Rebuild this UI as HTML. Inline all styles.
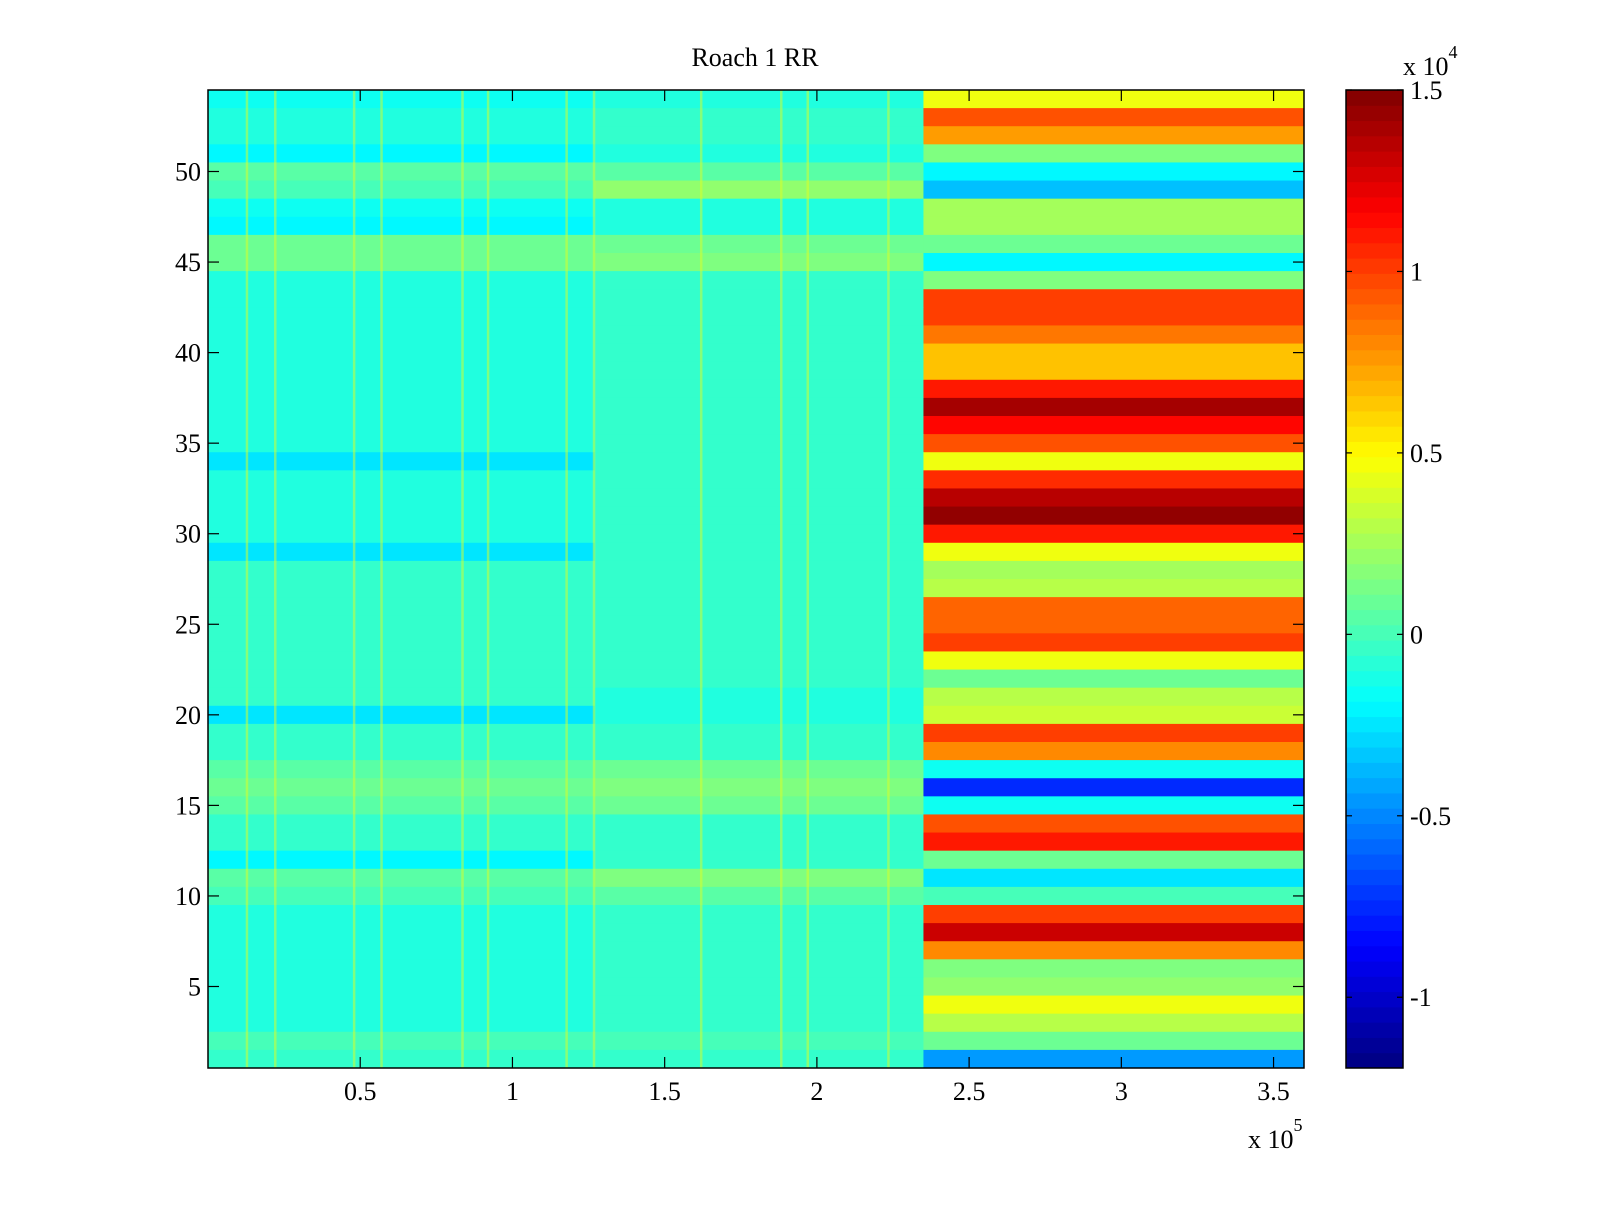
<!DOCTYPE html>
<html><head><meta charset="utf-8"><style>
body{margin:0;background:#fff;}
svg text{font-family:"Liberation Serif",serif;fill:#000;}
</style></head><body>
<svg id="chart" width="1600" height="1200" xmlns="http://www.w3.org/2000/svg">
<rect width="1600" height="1200" fill="#fff"/>
<g id="cells"></g>
<g id="cbar"></g>
<g id="axes"></g>
<text x="755" y="66" font-size="26" text-anchor="middle">Roach 1 RR</text>
<text x="1248" y="1148" font-size="26">x 10<tspan dy="-17" font-size="18">5</tspan></text>
<text x="1403" y="75" font-size="26">x 10<tspan dy="-17" font-size="18">4</tspan></text>
</svg>
<script>
// values in units of 1e4, rows listed top (54) to bottom (1)
const rightVals=[0.45,0.95,0.75,0.15,-0.2,-0.35,0.25,0.25,0.1,-0.2,0.15,1.0,1.0,0.85,0.65,0.65,1.1,1.4,1.15,0.95,0.45,1.05,1.35,1.45,1.1,0.45,0.25,0.3,0.9,0.9,1.0,0.45,0.1,0.3,0.35,1.0,0.8,-0.15,-0.75,-0.15,0.95,1.1,0.1,-0.25,0.0,1.0,1.3,0.8,0.15,0.2,0.45,0.3,0.1,-0.45];
const leftA=[-0.15,-0.1,-0.1,-0.2,0.05,0.0,-0.15,-0.2,0.1,0.1,-0.1,-0.1,-0.1,-0.1,-0.1,-0.1,-0.1,-0.1,-0.1,-0.1,-0.25,-0.1,-0.1,-0.1,-0.1,-0.25,-0.05,-0.05,-0.05,-0.05,-0.05,-0.05,-0.05,-0.05,-0.25,-0.05,-0.05,0.05,0.1,0.05,-0.05,-0.05,-0.2,0.05,0.0,-0.1,-0.1,-0.1,-0.1,-0.1,-0.1,-0.1,0.0,-0.05];
const leftB=[-0.1,-0.05,-0.05,-0.1,0.05,0.2,-0.1,-0.1,0.1,0.15,-0.05,-0.05,-0.05,-0.05,-0.05,-0.05,-0.05,-0.05,-0.05,-0.05,-0.05,-0.05,-0.05,-0.05,-0.05,-0.05,-0.05,-0.05,-0.05,-0.05,-0.05,-0.05,-0.05,-0.1,-0.1,-0.05,-0.05,0.1,0.15,0.1,-0.05,-0.05,-0.05,0.15,0.05,-0.05,-0.05,-0.05,-0.05,-0.05,-0.05,-0.05,0.0,-0.05];
const stripeX=[0.128,0.221,0.48,0.57,0.836,0.92,1.178,1.268,1.62,1.883,1.97,2.235]; // x 1e5
const splitX=[1.27,2.35]; // x 1e5
const xTicks=[0.5,1,1.5,2,2.5,3,3.5];
const xTickLabels=["0.5","1","1.5","2","2.5","3","3.5"];
const yTicks=[5,10,15,20,25,30,35,40,45,50];
const cTicks=[-1,-0.5,0,0.5,1,1.5];
const cTickLabels=["-1","-0.5","0","0.5","1","1.5"];

const L=208,R=1304,T=90,B=1068,XMAX=3.6,NR=54;
const CL=1346,CR=1403,CMIN=-1.195,CMAX=1.5;
const X=v=>L+(v/XMAX)*(R-L);
const Y=v=>B-(v-0.5)/NR*(B-T);
const CY=v=>B-(v-CMIN)/(CMAX-CMIN)*(B-T);
function jet(v){let t=(v-CMIN)/(CMAX-CMIN);t=Math.max(0,Math.min(1,t));
 const c=x=>Math.round(255*Math.max(0,Math.min(1,x)));
 return `rgb(${c(1.5-Math.abs(4*t-3))},${c(1.5-Math.abs(4*t-2))},${c(1.5-Math.abs(4*t-1))})`;}
const NS="http://www.w3.org/2000/svg";
function mk(tag,attrs,parent){const e=document.createElementNS(NS,tag);for(const k in attrs)e.setAttribute(k,attrs[k]);parent.appendChild(e);return e;}
const cells=document.getElementById('cells');
for(let i=0;i<NR;i++){
 const row=NR-i, y0=Y(row+0.5), y1=Y(row-0.5);
 const segs=[[0,splitX[0],leftA[i]],[splitX[0],splitX[1],leftB[i]],[splitX[1],XMAX,rightVals[i]]];
 segs.forEach(s=>{
  const r=mk('rect',{x:X(s[0]),y:y0,width:X(s[1])-X(s[0])+0.5,height:y1-y0+0.5,fill:jet(s[2])},cells);
  
  
 });
}
stripeX.forEach(s=>{
 const r=mk('rect',{x:X(s)-1.25,y:T,width:2.5,height:B-T,fill:jet(0.4),opacity:0.5},cells);
 
 
});
const cb=document.getElementById('cbar');
const N=64;
for(let k=0;k<N;k++){
 const v0=CMIN+(CMAX-CMIN)*k/N, v1=CMIN+(CMAX-CMIN)*(k+1)/N;
 const r=mk('rect',{x:CL,y:CY(v1),width:CR-CL,height:CY(v0)-CY(v1)+0.5,fill:jet((v0+v1)/2)},cb);
 
 
}
mk('rect',{x:CL,y:T,width:CR-CL,height:B-T,fill:'none',stroke:'#000','stroke-width':1.5},cb);
cTicks.forEach((v,i)=>{
 const y=CY(v);
 mk('line',{x1:CL,x2:CL+6,y1:y,y2:y,stroke:'#000','stroke-width':1.2},cb);
 mk('line',{x1:CR,x2:CR-6,y1:y,y2:y,stroke:'#000','stroke-width':1.2},cb);
 const t=mk('text',{x:CR+7,y:y+9,'font-size':26},cb);t.textContent=cTickLabels[i];
 
 
});
const ax=document.getElementById('axes');
mk('rect',{x:L,y:T,width:R-L,height:B-T,fill:'none',stroke:'#000','stroke-width':1.5},ax);
xTicks.forEach((v,i)=>{
 const x=X(v);
 mk('line',{x1:x,x2:x,y1:B,y2:B-11,stroke:'#000','stroke-width':1.2},ax);
 mk('line',{x1:x,x2:x,y1:T,y2:T+11,stroke:'#000','stroke-width':1.2},ax);
 const t=mk('text',{x:x,y:1100,'font-size':26,'text-anchor':'middle'},ax);t.textContent=xTickLabels[i];
 
 
});
yTicks.forEach(v=>{
 const y=Y(v);
 mk('line',{x1:L,x2:L+11,y1:y,y2:y,stroke:'#000','stroke-width':1.2},ax);
 mk('line',{x1:R,x2:R-11,y1:y,y2:y,stroke:'#000','stroke-width':1.2},ax);
 const t=mk('text',{x:L-7,y:y+9,'font-size':26,'text-anchor':'end'},ax);t.textContent=String(v);
 
 
});
</script>
</body></html>
